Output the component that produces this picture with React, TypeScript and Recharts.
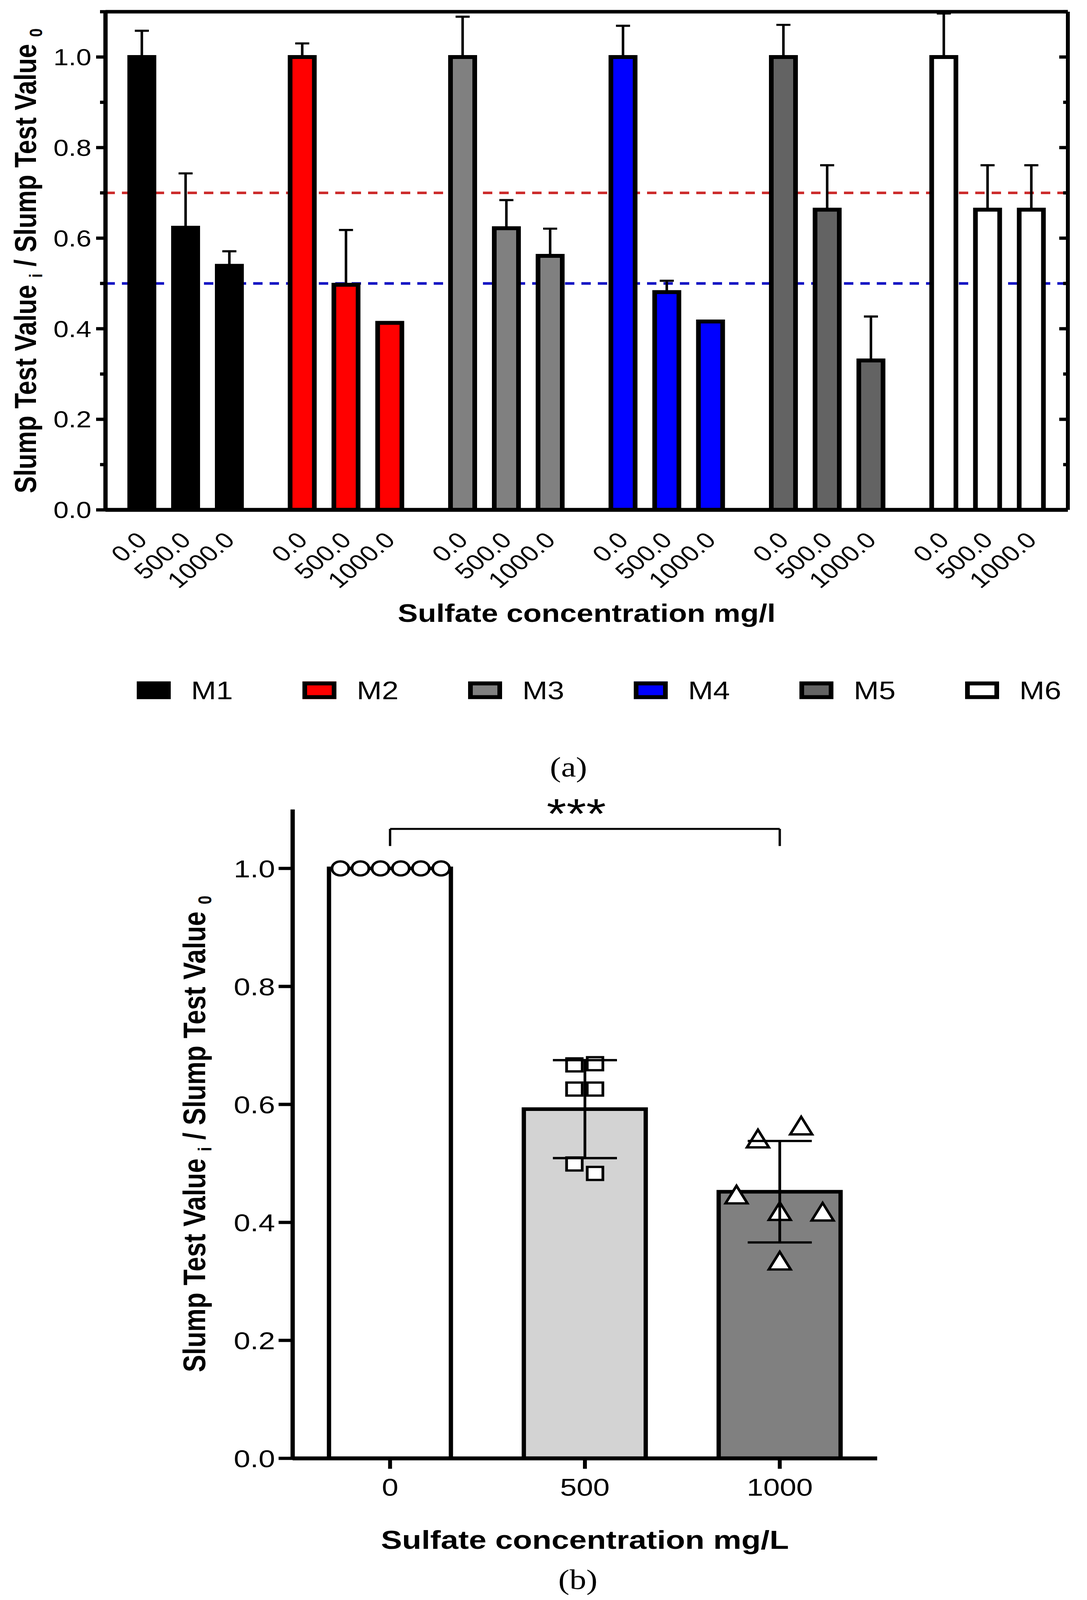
import React from 'react';
import {
  ComposedChart,
  Bar,
  Cell,
  XAxis,
  YAxis,
  ErrorBar,
  ReferenceLine,
  LabelList,
  Legend,
  Scatter,
} from 'recharts';

const FONT = '"Liberation Sans", Arial, Helvetica, sans-serif';
const SERIF = '"Liberation Serif", "Times New Roman", Times, serif';
const PAGE_W = 2782;
const PAGE_H = 4914;

// ---------- Panel (a) data ----------
const GROUPS = ['M1', 'M2', 'M3', 'M4', 'M5', 'M6'];
const GROUP_COLORS = ['#000000', '#ff0000', '#808080', '#0000ff', '#636363', '#ffffff'];
const CONC_LABELS_A = ['0.0', '500.0', '1000.0'];
const MEAN_0 = [1.0, 1.0, 1.0, 1.0, 1.0, 1.0];
const MEAN_500 = [0.623, 0.497, 0.622, 0.481, 0.663, 0.663];
const MEAN_1000 = [0.539, 0.413, 0.561, 0.416, 0.33, 0.663];
const SD_0 = [0.058, 0.03, 0.089, 0.069, 0.071, 0.096];
const SD_500 = [0.12, 0.121, 0.062, 0.025, 0.098, 0.098];
const SD_1000 = [0.032, 0, 0.06, 0, 0.097, 0.098];
const Y_TICKS_A = [0, 0.1, 0.2, 0.3, 0.4, 0.5, 0.6, 0.7, 0.8, 0.9, 1.0, 1.1];
const Y_MAX = 1.1;
const LIMIT_RED = 0.7;
const LIMIT_BLUE = 0.5;

// ---------- Panel (b) data ----------
const CONC_B = ['0', '500', '1000'];
const MEAN_B = [1.0, 0.592, 0.452];
const SD_B = [0, 0.083, 0.086];
const FILL_B = ['#ffffff', '#d3d3d3', '#808080'];
const VALUES_B0 = [1.0, 1.0, 1.0, 1.0, 1.0, 1.0];
const JITTER_B0 = [-0.255, -0.152, -0.049, 0.055, 0.158, 0.262];
const VALUES_B500 = [0.667, 0.669, 0.626, 0.626, 0.499, 0.483];
const JITTER_B500 = [-0.054, 0.052, -0.054, 0.052, -0.054, 0.052];
const VALUES_B1000 = [0.541, 0.563, 0.446, 0.418, 0.417, 0.334];
const JITTER_B1000 = [-0.112, 0.11, -0.222, 0, 0.22, 0];
const Y_TICKS_B = [0, 0.2, 0.4, 0.6, 0.8, 1.0];
const BRACKET_FROM = '0';
const BRACKET_TO = '1000';
const BRACKET_Y = 1.067;
const BRACKET_LEG = 1.038;
const BRACKET_TEXT = '***';

// ---------- built tables ----------
const dataA = GROUPS.map((g, i) => ({
  group: g,
  c0: MEAN_0[i],
  c500: MEAN_500[i],
  c1000: MEAN_1000[i],
  e0: [0, SD_0[i]],
  e500: [0, SD_500[i]],
  e1000: [0, SD_1000[i]],
}));
const SERIES_A = [
  { key: 'c0', err: 'e0', label: CONC_LABELS_A[0] },
  { key: 'c500', err: 'e500', label: CONC_LABELS_A[1] },
  { key: 'c1000', err: 'e1000', label: CONC_LABELS_A[2] },
];

const dataB = CONC_B.map((c, i) => ({ conc: c, mean: MEAN_B[i] }));
const meanPtsB = CONC_B.map((c, i) => ({ x: i, y: MEAN_B[i], sd: SD_B[i] }));
const ptsB0 = VALUES_B0.map((v, k) => ({ x: 0 + JITTER_B0[k], y: v }));
const ptsB500 = VALUES_B500.map((v, k) => ({ x: 1 + JITTER_B500[k], y: v }));
const ptsB1000 = VALUES_B1000.map((v, k) => ({ x: 2 + JITTER_B1000[k], y: v }));

// ---------- helpers ----------
const isMajor = (v: number) => Math.round(v * 10) % 2 === 0;

const LeftTickA = (p: any) => {
  const { x, y, payload } = p;
  const major = isMajor(payload.value);
  const len = major ? 24 : 14;
  return (
    <g>
      <line x1={x - len} x2={x} y1={y} y2={y} stroke="#000" strokeWidth={10} />
      {major && (
        <text x={x - 36} y={y} dy="0.36em" textAnchor="end" fontSize={70} fontFamily={FONT} fill="#000">
          {Number(payload.value).toFixed(1)}
        </text>
      )}
    </g>
  );
};

const RightTickA = (p: any) => {
  const { x, y, payload } = p;
  const len = isMajor(payload.value) ? 22 : 12;
  return <line x1={x - len} x2={x} y1={y} y2={y} stroke="#000" strokeWidth={10} />;
};

const makeConcLabel = (text: string) => (props: any) => {
  const vb = props.viewBox && props.viewBox.width != null ? props.viewBox : props;
  const cx = vb.x + vb.width / 2 + 17;
  const by = vb.y + vb.height + 97;
  return (
    <text
      x={cx}
      y={by}
      transform={`rotate(-45, ${cx}, ${by})`}
      textAnchor="end"
      fontSize={68}
      fontFamily={FONT}
      fill="#000"
    >
      {text}
    </text>
  );
};

const YTitle = (baselineX: number, size: number) => (props: any) => {
  const vb = props.viewBox;
  const x = vb.x + baselineX;
  const y = vb.y + vb.height / 2;
  const sub = Math.round(size * 0.6);
  const shift = Math.round(size * 0.2);
  return (
    <text
      x={x}
      y={y}
      transform={`rotate(-90, ${x}, ${y})`}
      textAnchor="middle"
      fontSize={size}
      fontWeight="bold"
      fontFamily={FONT}
      fill="#000"
    >
      <tspan>Slump Test Value </tspan>
      <tspan fontSize={sub} dy={shift}>i</tspan>
      <tspan dy={-shift}> / Slump Test Value </tspan>
      <tspan fontSize={sub} dy={shift}>0</tspan>
    </text>
  );
};

const XTitle = (text: string, dyFromAxis: number, size: number) => (props: any) => {
  const vb = props.viewBox;
  return (
    <text
      x={vb.x + vb.width / 2}
      y={vb.y + dyFromAxis}
      textAnchor="middle"
      fontSize={size}
      fontWeight="bold"
      fontFamily={FONT}
      fill="#000"
    >
      {text}
    </text>
  );
};

const LegendA = () => (
  <div style={{ display: 'flex', paddingLeft: 350, height: 107, alignItems: 'flex-start' }}>
    {GROUPS.map((g, i) => (
      <div key={g} style={{ display: 'flex', alignItems: 'center', width: 424, flex: '0 0 424px' }}>
        <div
          style={{
            width: 87,
            height: 54,
            boxSizing: 'border-box',
            border: '12px solid #000',
            background: GROUP_COLORS[i],
          }}
        />
        <span style={{ marginLeft: 52, fontSize: 77, fontFamily: FONT, lineHeight: '54px', color: '#000' }}>{g}</span>
      </div>
    ))}
  </div>
);

const circleShape = (p: any) => (
  <circle cx={p.cx} cy={p.cy} r={21.5} fill="#fff" stroke="#000" strokeWidth={7} />
);
const squareShape = (p: any) => (
  <rect x={p.cx - 20} y={p.cy - 20} width={40} height={40} fill="#fff" stroke="#000" strokeWidth={7} />
);
const triangleShape = (p: any) => (
  <path
    d={`M${p.cx},${p.cy - 29}L${p.cx + 28},${p.cy + 25}L${p.cx - 28},${p.cy + 25}Z`}
    fill="#fff"
    stroke="#000"
    strokeWidth={7}
  />
);
const emptyShape = () => <g />;

const ChartA = () => (
  <ComposedChart
    width={PAGE_W}
    height={2200}
    data={dataA}
    margin={{ top: 36, right: 0, bottom: 0, left: 0 }}
    barSize={62}
    barGap={50}
  >
    <XAxis
      dataKey="group"
      height={634}
      tick={false}
      tickLine={false}
      axisLine={{ stroke: '#000', strokeWidth: 12 }}
      label={{ content: XTitle('Sulfate concentration mg/l', 344, 77) }}
    />
    <YAxis
      yAxisId="L"
      type="number"
      width={270}
      domain={[0, Y_MAX]}
      allowDataOverflow
      ticks={Y_TICKS_A}
      interval={0}
      tickSize={0}
      tickMargin={0}
      tickLine={false}
      tick={(p: any) => <LeftTickA {...p} />}
      axisLine={{ stroke: '#000', strokeWidth: 11 }}
      label={{ content: YTitle(92, 78) }}
    />
    <YAxis
      yAxisId="R"
      orientation="right"
      type="number"
      width={49}
      domain={[0, Y_MAX]}
      allowDataOverflow
      ticks={Y_TICKS_A}
      interval={0}
      tickSize={0}
      tickMargin={0}
      tickLine={false}
      tick={(p: any) => <RightTickA {...p} />}
      axisLine={{ stroke: '#000', strokeWidth: 10 }}
    />
    <ReferenceLine yAxisId="L" y={LIMIT_RED} stroke="#cc2a2a" strokeWidth={8} strokeDasharray="24 18" zIndex={50} />
    <ReferenceLine yAxisId="L" y={LIMIT_BLUE} stroke="#1616c4" strokeWidth={8} strokeDasharray="24 18" zIndex={50} />
    {SERIES_A.map((s) => (
      <Bar key={s.key} yAxisId="L" dataKey={s.key} stroke="#000" strokeWidth={12} isAnimationActive={false}>
        {GROUPS.map((g, i) => (
          <Cell key={g} fill={GROUP_COLORS[i]} />
        ))}
        <ErrorBar dataKey={s.err} direction="y" width={18} strokeWidth={6.5} stroke="#000" />
        <LabelList dataKey={s.key} content={makeConcLabel(s.label)} />
      </Bar>
    ))}
    <ReferenceLine yAxisId="L" y={Y_MAX} stroke="#000" strokeWidth={11} />
    <Legend
      layout="horizontal"
      verticalAlign="middle"
      align="center"
      content={LegendA}
      wrapperStyle={{ top: 2093, left: 0, width: PAGE_W, height: 107 }}
    />
  </ComposedChart>
);

const ChartB = () => (
  <ComposedChart
    width={PAGE_W}
    height={2514}
    data={dataB}
    margin={{ top: 86, right: 537, bottom: 0, left: 0 }}
  >
    <XAxis
      dataKey="conc"
      height={435}
      interval={0}
      tickSize={32}
      tickMargin={29}
      tickLine={{ stroke: '#000', strokeWidth: 10 }}
      axisLine={{ stroke: '#000', strokeWidth: 12 }}
      tick={{ fontSize: 76, fill: '#000', fontFamily: FONT }}
      label={{ content: XTitle('Sulfate concentration mg/L', 278, 81) }}
    />
    <XAxis xAxisId="n" type="number" dataKey="x" domain={[-0.5, 2.5]} allowDataOverflow hide />
    <YAxis
      type="number"
      width={749}
      domain={[0, Y_MAX]}
      allowDataOverflow
      ticks={Y_TICKS_B}
      interval={0}
      tickSize={36}
      tickMargin={9}
      tickFormatter={(v: number) => v.toFixed(1)}
      tick={{ fontSize: 76, fill: '#000', fontFamily: FONT }}
      tickLine={{ stroke: '#000', strokeWidth: 10 }}
      axisLine={{ stroke: '#000', strokeWidth: 11 }}
      label={{ content: YTitle(525, 80) }}
    />
    <Bar dataKey="mean" barSize={312} stroke="#000" strokeWidth={11} isAnimationActive={false}>
      {CONC_B.map((c, i) => (
        <Cell key={c} fill={FILL_B[i]} />
      ))}
    </Bar>
    <Scatter xAxisId="n" data={ptsB0} dataKey="y" shape={circleShape} isAnimationActive={false} />
    <Scatter xAxisId="n" data={ptsB500} dataKey="y" shape={squareShape} isAnimationActive={false} />
    <Scatter xAxisId="n" data={ptsB1000} dataKey="y" shape={triangleShape} isAnimationActive={false} />
    <Scatter xAxisId="n" data={meanPtsB} dataKey="y" shape={emptyShape} isAnimationActive={false}>
      <ErrorBar dataKey="sd" direction="y" width={82} strokeWidth={7} stroke="#000" zIndex={700} />
    </Scatter>
    <ReferenceLine
      segment={[{ x: BRACKET_FROM, y: BRACKET_Y }, { x: BRACKET_TO, y: BRACKET_Y }]}
      stroke="#000"
      strokeWidth={6}
      label={{ value: BRACKET_TEXT, position: 'top', offset: 2, dx: -22, fontSize: 130, fill: '#000', fontFamily: FONT }}
    />
    <ReferenceLine
      segment={[{ x: BRACKET_FROM, y: BRACKET_Y }, { x: BRACKET_FROM, y: BRACKET_LEG }]}
      stroke="#000"
      strokeWidth={6}
    />
    <ReferenceLine
      segment={[{ x: BRACKET_TO, y: BRACKET_Y }, { x: BRACKET_TO, y: BRACKET_LEG }]}
      stroke="#000"
      strokeWidth={6}
    />
  </ComposedChart>
);

const captionStyle: React.CSSProperties = {
  position: 'absolute',
  width: 200,
  textAlign: 'center',
  fontFamily: SERIF,
  fontSize: 86,
  lineHeight: '100px',
  color: '#000',
};

export default function App() {
  // The page may be photographed in a viewport shorter than the figure;
  // squeeze the whole figure vertically so it fits the visible page.
  const vh = typeof window !== 'undefined' && window.innerHeight ? window.innerHeight : PAGE_H;
  const sy = Math.min(1, vh / PAGE_H);
  return (
    <div style={{ position: 'absolute', left: 0, top: 0, width: PAGE_W, height: PAGE_H * sy, overflow: 'hidden', background: '#fff' }}>
      <style>{'html,body{margin:0;padding:0;overflow:hidden;background:#fff;}'}</style>
      <div
        style={{
          position: 'relative',
          width: PAGE_W,
          height: PAGE_H,
          background: '#fff',
          fontFamily: FONT,
          transform: `scale(1, ${sy})`,
          transformOrigin: '0 0',
        }}
      >
        <div style={{ position: 'absolute', left: 0, top: 0 }}>
          <ChartA />
        </div>
        <div style={{ ...captionStyle, left: 1355, top: 2306 }}>(a)</div>
        <div style={{ position: 'absolute', left: 0, top: 2400 }}>
          <ChartB />
        </div>
        <div style={{ ...captionStyle, left: 1379, top: 4801 }}>(b)</div>
      </div>
    </div>
  );
}
